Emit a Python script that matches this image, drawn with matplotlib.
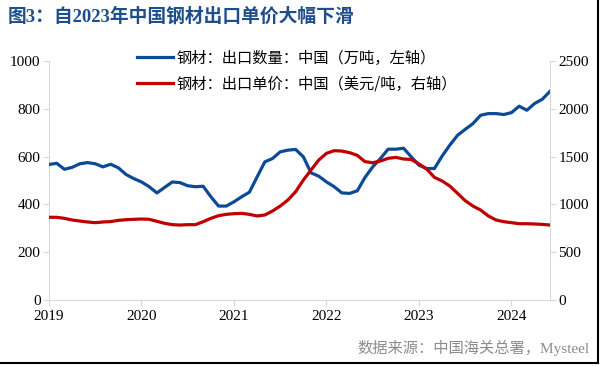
import numpy as np
from matplotlib import pyplot as plt
from matplotlib.lines import Line2D

plt.rcParams['font.family'] = ['Liberation Serif', 'Noto Sans CJK SC', 'DejaVu Sans']

# 月度数据：2019-01 至 2024-06
months = np.arange(66)
years = 2019 + months / 12

# 钢材出口数量（万吨，左轴）
volume = [567, 572, 547, 555, 570, 575, 570, 557, 568, 553, 525, 508,
          494, 474, 448, 471, 494, 491, 478, 474, 476, 432, 393, 393,
          411, 432, 451, 515, 578, 592, 620, 627, 630, 599, 532, 518,
          494, 474, 448, 446, 457, 513, 557, 592, 631, 631, 635, 599,
          564, 550, 550, 602, 648, 689, 714, 738, 773, 780, 780, 776,
          784, 811, 794, 822, 840, 873]

# 钢材出口单价（美元/吨，右轴）
price = [865, 865, 854, 837, 826, 816, 809, 816, 820, 833, 840, 844,
         847, 844, 823, 802, 788, 784, 788, 788, 819, 854, 882, 896,
         903, 906, 896, 879, 889, 931, 983, 1046, 1133, 1255, 1360, 1464,
         1534, 1562, 1558, 1541, 1513, 1447, 1436, 1454, 1482, 1492, 1475, 1470,
         1423, 1370, 1283, 1245, 1192, 1116, 1039, 983, 941, 879, 837, 819,
         809, 798, 798, 795, 791, 784]

year_ticks = [2019, 2020, 2021, 2022, 2023, 2024]
left_ticks = [0, 200, 400, 600, 800, 1000]
right_ticks = [0, 500, 1000, 1500, 2000, 2500]

blue = '#0D4A96'
red = '#C00000'
grey = '#D9D9D9'

fig = plt.figure(figsize=(6, 3.66), dpi=100)
ax = fig.add_axes([49 / 600, 1 - 300 / 366, 501 / 600, 239 / 366])
ax2 = ax.twinx()

l1, = ax.plot(years, volume, color=blue, lw=2.3, zorder=3)
l2, = ax2.plot(years, price, color=red, lw=2.3, zorder=3)

ax.set_xlim(2019, 2019 + 65 / 12)
ax.set_ylim(0, 1000)
ax2.set_ylim(0, 2500)
ax.set_xticks(year_ticks)
ax.set_yticks(left_ticks)
ax2.set_yticks(right_ticks)

for a in (ax, ax2):
    for s in a.spines.values():
        s.set_color(grey)
        s.set_linewidth(0.8)
    a.spines['top'].set_visible(False)
    a.tick_params(labelsize=11, color=grey, length=4, width=0.8, pad=2)
ax.spines['right'].set_visible(False)
ax2.spines['left'].set_visible(False)
ax2.spines['bottom'].set_visible(False)
ax.tick_params(axis='x', pad=3)

fig.legend([l1, l2],
           ['钢材：出口数量：中国（万吨，左轴）', '钢材：出口单价：中国（美元/吨，右轴）'],
           loc='upper left', bbox_to_anchor=(129 / 600, 1 - 42 / 366),
           frameon=False, handlelength=2.4, handletextpad=0.2,
           labelspacing=0.55, borderpad=0,
           prop={'family': ['Noto Sans CJK SC'], 'size': 11})

fig.text(8 / 600, 1 - 17 / 366, '图3：自2023年中国钢材出口单价大幅下滑',
         fontsize=13.5, fontweight='bold', color='#1F4E8C', va='center', ha='left')
fig.text(590 / 600, 1 - 348 / 366, '数据来源：中国海关总署，Mysteel',
         fontsize=11, color='#8C8C8C', va='center', ha='right')

# 图片边框（右侧与底部）
fig.add_artist(Line2D([598 / 600, 598 / 600], [1 - 363 / 366, 1], color='black', lw=1.5))
fig.add_artist(Line2D([0, 598 / 600], [1 - 363 / 366, 1 - 363 / 366], color='black', lw=1.5))

fig.savefig('out.png', dpi=100)
